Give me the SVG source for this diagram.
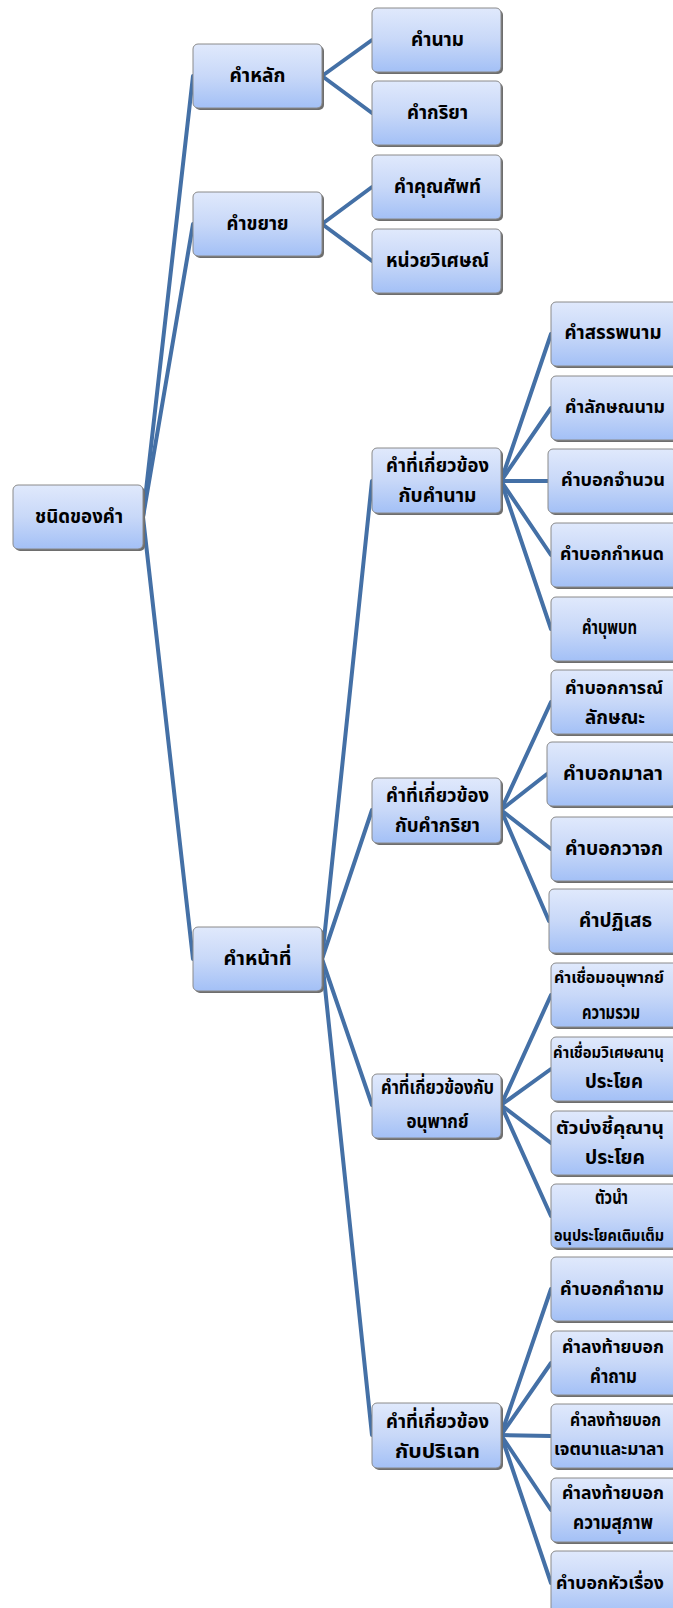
<svg xmlns="http://www.w3.org/2000/svg" width="673" height="1608" viewBox="0 0 673 1608">
<defs>
<linearGradient id="bg" x1="0" y1="0" x2="0" y2="1">
<stop offset="0" stop-color="#e0e9fc"/>
<stop offset="0.5" stop-color="#c8d8f8"/>
<stop offset="1" stop-color="#a3c0f6"/>
</linearGradient>
<style>
.sh{fill:#6e6e6e}
.bx{fill:url(#bg);stroke:#8a8a8a;stroke-width:1}
.t{font-family:"Noto Sans Thai","Noto Sans","DejaVu Sans",sans-serif;font-size:20px;font-weight:bold;fill:#000;text-anchor:middle}
.s{font-size:18px}
.xs{font-size:16px}
.c{fill:none;stroke:#4470a6;stroke-width:4;stroke-linecap:round}
</style>
</defs>
<rect width="673" height="1608" fill="#fff"/>
<g id="connectors">
<path class="c" d="M143,517 L193,76"/>
<path class="c" d="M143,517 L193,224"/>
<path class="c" d="M143,517 L193,959"/>
<path class="c" d="M322,76 L372,40"/>
<path class="c" d="M322,76 L372,113"/>
<path class="c" d="M322,224 L372,187"/>
<path class="c" d="M322,224 L372,261"/>
<path class="c" d="M322,959 L372,481"/>
<path class="c" d="M322,959 L372,810"/>
<path class="c" d="M322,959 L372,1105"/>
<path class="c" d="M322,959 L372,1435"/>
<path class="c" d="M501,481 L551,334"/>
<path class="c" d="M501,481 L551,408"/>
<path class="c" d="M501,481 L548,481"/>
<path class="c" d="M501,481 L551,555"/>
<path class="c" d="M501,481 L551,629"/>
<path class="c" d="M501,810 L551,702"/>
<path class="c" d="M501,810 L547,774"/>
<path class="c" d="M501,810 L551,849"/>
<path class="c" d="M501,810 L549,921"/>
<path class="c" d="M501,1105 L551,995"/>
<path class="c" d="M501,1105 L551,1069"/>
<path class="c" d="M501,1105 L551,1143"/>
<path class="c" d="M501,1105 L551,1216"/>
<path class="c" d="M501,1435 L551,1289"/>
<path class="c" d="M501,1435 L551,1363"/>
<path class="c" d="M501,1435 L551,1436"/>
<path class="c" d="M501,1435 L551,1510"/>
<path class="c" d="M501,1435 L551,1583"/>
</g>
<g id="root"><rect class="sh" x="15" y="487" width="130" height="64" rx="5"/><rect class="bx" x="13" y="485" width="130" height="64" rx="5"/><text class="t" x="79" y="523" textLength="88" lengthAdjust="spacingAndGlyphs">ชนิดของคำ</text></g>
<g id="n-main"><rect class="sh" x="195" y="46" width="129" height="64" rx="5"/><rect class="bx" x="193" y="44" width="129" height="64" rx="5"/><text class="t" x="257.5" y="82" textLength="56" lengthAdjust="spacingAndGlyphs">คำหลัก</text></g>
<g id="n-mod"><rect class="sh" x="195" y="194" width="129" height="64" rx="5"/><rect class="bx" x="193" y="192" width="129" height="64" rx="5"/><text class="t" x="257.5" y="230" textLength="62" lengthAdjust="spacingAndGlyphs">คำขยาย</text></g>
<g id="n-func"><rect class="sh" x="195" y="929" width="129" height="64" rx="5"/><rect class="bx" x="193" y="927" width="129" height="64" rx="5"/><text class="t" x="257.5" y="965" textLength="68" lengthAdjust="spacingAndGlyphs">คำหน้าที่</text></g>
<g id="n-noun"><rect class="sh" x="374" y="10" width="129" height="64" rx="5"/><rect class="bx" x="372" y="8" width="129" height="64" rx="5"/><text class="t" x="437.5" y="46" textLength="53" lengthAdjust="spacingAndGlyphs">คำนาม</text></g>
<g id="n-verb"><rect class="sh" x="374" y="83" width="129" height="64" rx="5"/><rect class="bx" x="372" y="81" width="129" height="64" rx="5"/><text class="t" x="437.5" y="119" textLength="61" lengthAdjust="spacingAndGlyphs">คำกริยา</text></g>
<g id="n-adj"><rect class="sh" x="374" y="157" width="129" height="64" rx="5"/><rect class="bx" x="372" y="155" width="129" height="64" rx="5"/><text class="t" x="437.5" y="193" textLength="87" lengthAdjust="spacingAndGlyphs">คำคุณศัพท์</text></g>
<g id="n-adv"><rect class="sh" x="374" y="231" width="129" height="64" rx="5"/><rect class="bx" x="372" y="229" width="129" height="64" rx="5"/><text class="t" x="437.5" y="267" textLength="103" lengthAdjust="spacingAndGlyphs">หน่วยวิเศษณ์</text></g>
<g id="g-noun"><rect class="sh" x="374" y="450" width="129" height="65" rx="5"/><rect class="bx" x="372" y="448" width="129" height="65" rx="5"/><text class="t" x="437.5" y="472" textLength="103" lengthAdjust="spacingAndGlyphs">คำที่เกี่ยวข้อง</text><text class="t" x="437.5" y="502" textLength="78" lengthAdjust="spacingAndGlyphs">กับคำนาม</text></g>
<g id="g-verb"><rect class="sh" x="374" y="780" width="129" height="65" rx="5"/><rect class="bx" x="372" y="778" width="129" height="65" rx="5"/><text class="t" x="437.5" y="802" textLength="103" lengthAdjust="spacingAndGlyphs">คำที่เกี่ยวข้อง</text><text class="t" x="437.5" y="832" textLength="85" lengthAdjust="spacingAndGlyphs">กับคำกริยา</text></g>
<g id="g-clause"><rect class="sh" x="374" y="1076" width="129" height="64" rx="5"/><rect class="bx" x="372" y="1074" width="129" height="64" rx="5"/><text class="t" x="437.5" y="1094" textLength="113" lengthAdjust="spacingAndGlyphs">คำที่เกี่ยวข้องกับ</text><text class="t" x="437.5" y="1128" textLength="62" lengthAdjust="spacingAndGlyphs">อนุพากย์</text></g>
<g id="g-disc"><rect class="sh" x="374" y="1405" width="129" height="65" rx="5"/><rect class="bx" x="372" y="1403" width="129" height="65" rx="5"/><text class="t" x="437.5" y="1428" textLength="103" lengthAdjust="spacingAndGlyphs">คำที่เกี่ยวข้อง</text><text class="t" x="437.5" y="1458" textLength="85" lengthAdjust="spacingAndGlyphs">กับปริเฉท</text></g>
<g id="n1"><rect class="sh" x="553" y="304" width="129" height="64" rx="5"/><rect class="bx" x="551" y="302" width="129" height="64" rx="5"/><text class="t" x="613" y="339" textLength="97" lengthAdjust="spacingAndGlyphs">คำสรรพนาม</text></g>
<g id="n2"><rect class="sh" x="553" y="378" width="129" height="64" rx="5"/><rect class="bx" x="551" y="376" width="129" height="64" rx="5"/><text class="t s" x="615" y="413" textLength="100" lengthAdjust="spacingAndGlyphs">คำลักษณนาม</text></g>
<g id="n3"><rect class="sh" x="550" y="451" width="129" height="64" rx="5"/><rect class="bx" x="548" y="449" width="129" height="64" rx="5"/><text class="t s" x="613" y="486" textLength="104" lengthAdjust="spacingAndGlyphs">คำบอกจำนวน</text></g>
<g id="n4"><rect class="sh" x="553" y="525" width="129" height="64" rx="5"/><rect class="bx" x="551" y="523" width="129" height="64" rx="5"/><text class="t s" x="612" y="560" textLength="104" lengthAdjust="spacingAndGlyphs">คำบอกกำหนด</text></g>
<g id="n5"><rect class="sh" x="553" y="599" width="129" height="64" rx="5"/><rect class="bx" x="551" y="597" width="129" height="64" rx="5"/><text class="t" x="609.5" y="634" textLength="55" lengthAdjust="spacingAndGlyphs">คำบุพบท</text></g>
<g id="v1"><rect class="sh" x="553" y="672" width="129" height="64" rx="5"/><rect class="bx" x="551" y="670" width="129" height="64" rx="5"/><text class="t s" x="614" y="694" textLength="98" lengthAdjust="spacingAndGlyphs">คำบอกการณ์</text><text class="t" x="615" y="724" textLength="60" lengthAdjust="spacingAndGlyphs">ลักษณะ</text></g>
<g id="v2"><rect class="sh" x="549" y="744" width="129" height="64" rx="5"/><rect class="bx" x="547" y="742" width="129" height="64" rx="5"/><text class="t" x="613" y="780" textLength="100" lengthAdjust="spacingAndGlyphs">คำบอกมาลา</text></g>
<g id="v3"><rect class="sh" x="553" y="819" width="129" height="64" rx="5"/><rect class="bx" x="551" y="817" width="129" height="64" rx="5"/><text class="t" x="614" y="855" textLength="98" lengthAdjust="spacingAndGlyphs">คำบอกวาจก</text></g>
<g id="v4"><rect class="sh" x="551" y="891" width="129" height="64" rx="5"/><rect class="bx" x="549" y="889" width="129" height="64" rx="5"/><text class="t" x="615.5" y="927" textLength="73" lengthAdjust="spacingAndGlyphs">คำปฏิเสธ</text></g>
<g id="c1"><rect class="sh" x="553" y="965" width="129" height="64" rx="5"/><rect class="bx" x="551" y="963" width="129" height="64" rx="5"/><text class="t xs" x="609" y="983" textLength="110" lengthAdjust="spacingAndGlyphs">คำเชื่อมอนุพากย์</text><text class="t" x="611" y="1019" textLength="58" lengthAdjust="spacingAndGlyphs">ความรวม</text></g>
<g id="c2"><rect class="sh" x="553" y="1039" width="129" height="64" rx="5"/><rect class="bx" x="551" y="1037" width="129" height="64" rx="5"/><text class="t xs" x="608.5" y="1058" textLength="111" lengthAdjust="spacingAndGlyphs">คำเชื่อมวิเศษณานุ</text><text class="t" x="614" y="1088" textLength="58" lengthAdjust="spacingAndGlyphs">ประโยค</text></g>
<g id="c3"><rect class="sh" x="553" y="1113" width="129" height="64" rx="5"/><rect class="bx" x="551" y="1111" width="129" height="64" rx="5"/><text class="t s" x="610" y="1134" textLength="108" lengthAdjust="spacingAndGlyphs">ตัวบ่งชี้คุณานุ</text><text class="t" x="615" y="1164" textLength="60" lengthAdjust="spacingAndGlyphs">ประโยค</text></g>
<g id="c4"><rect class="sh" x="553" y="1186" width="129" height="64" rx="5"/><rect class="bx" x="551" y="1184" width="129" height="64" rx="5"/><text class="t" x="611.5" y="1204" textLength="33" lengthAdjust="spacingAndGlyphs">ตัวนำ</text><text class="t xs" x="609" y="1241" textLength="110" lengthAdjust="spacingAndGlyphs">อนุประโยคเติมเต็ม</text></g>
<g id="p1"><rect class="sh" x="553" y="1259" width="129" height="64" rx="5"/><rect class="bx" x="551" y="1257" width="129" height="64" rx="5"/><text class="t s" x="612" y="1295" textLength="104" lengthAdjust="spacingAndGlyphs">คำบอกคำถาม</text></g>
<g id="p2"><rect class="sh" x="553" y="1333" width="129" height="64" rx="5"/><rect class="bx" x="551" y="1331" width="129" height="64" rx="5"/><text class="t s" x="613" y="1353" textLength="102" lengthAdjust="spacingAndGlyphs">คำลงท้ายบอก</text><text class="t" x="613.5" y="1383" textLength="47" lengthAdjust="spacingAndGlyphs">คำถาม</text></g>
<g id="p3"><rect class="sh" x="553" y="1406" width="129" height="64" rx="5"/><rect class="bx" x="551" y="1404" width="129" height="64" rx="5"/><text class="t s" x="615.5" y="1426" textLength="91" lengthAdjust="spacingAndGlyphs">คำลงท้ายบอก</text><text class="t s" x="609" y="1455" textLength="110" lengthAdjust="spacingAndGlyphs">เจตนาและมาลา</text></g>
<g id="p4"><rect class="sh" x="553" y="1480" width="129" height="64" rx="5"/><rect class="bx" x="551" y="1478" width="129" height="64" rx="5"/><text class="t s" x="613" y="1499" textLength="102" lengthAdjust="spacingAndGlyphs">คำลงท้ายบอก</text><text class="t" x="613" y="1529" textLength="80" lengthAdjust="spacingAndGlyphs">ความสุภาพ</text></g>
<g id="p5"><rect class="sh" x="553" y="1553" width="129" height="64" rx="5"/><rect class="bx" x="551" y="1551" width="129" height="64" rx="5"/><text class="t s" x="610" y="1589" textLength="108" lengthAdjust="spacingAndGlyphs">คำบอกหัวเรื่อง</text></g>
</svg>
